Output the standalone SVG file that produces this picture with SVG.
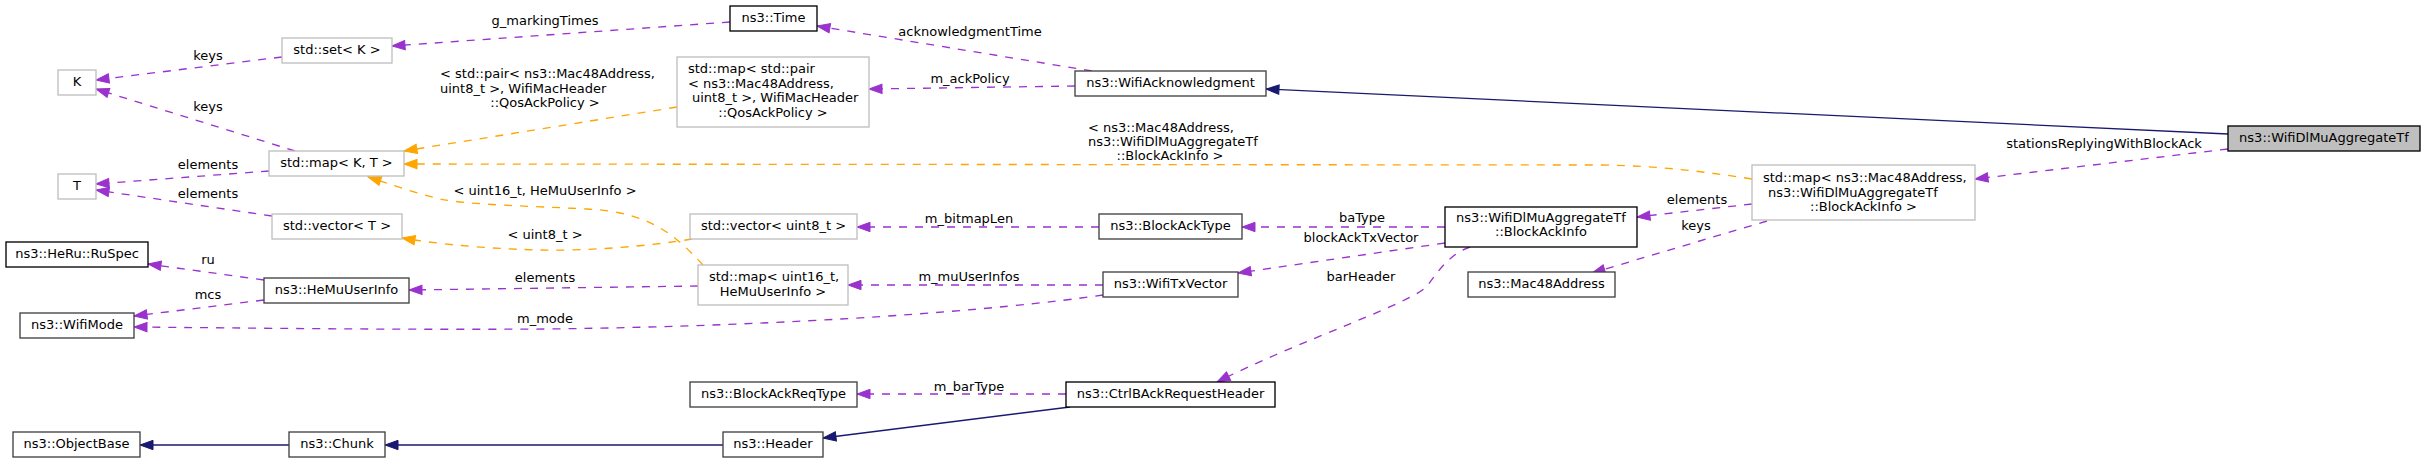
<svg xmlns="http://www.w3.org/2000/svg" width="2424" height="464" viewBox="0 0 2424 464">
<style>
text{font-family:"DejaVu Sans","Liberation Sans",sans-serif;font-size:13px;fill:#000}
.c{text-anchor:middle}
.s{text-anchor:start}
rect{fill:#fff;stroke-width:1.33}
.g rect{stroke:#bfbfbf}
.b rect{stroke:#000}
.d rect{stroke:#404040}
.f rect{fill:#bfbfbf;stroke:#000}
.e path{fill:none;stroke-width:1.33}
.p{stroke:#9a32cd;stroke-dasharray:8,8}
.o{stroke:#ffa500;stroke-dasharray:8,8}
.n{stroke:#191970}
</style>
<defs>
<marker id="ap" markerUnits="userSpaceOnUse" markerWidth="16" markerHeight="12" refX="13" refY="4.67" orient="auto" overflow="visible"><path d="M0,0L13,4.67L0,9.33z" fill="#9a32cd" stroke="#9a32cd" stroke-width="1"/></marker>
<marker id="ao" markerUnits="userSpaceOnUse" markerWidth="16" markerHeight="12" refX="13" refY="4.67" orient="auto" overflow="visible"><path d="M0,0L13,4.67L0,9.33z" fill="#ffa500" stroke="#ffa500" stroke-width="1"/></marker>
<marker id="an" markerUnits="userSpaceOnUse" markerWidth="16" markerHeight="12" refX="13" refY="4.67" orient="auto" overflow="visible"><path d="M0,0L13,4.67L0,9.33z" fill="#191970" stroke="#191970" stroke-width="1"/></marker>
</defs>
<rect x="0" y="0" width="2424" height="464" style="fill:#fff;stroke:none"/>
<g id="edges" class="e">
<path class="n" d="M2228,134L1266,89" marker-end="url(#an)"/>
<path class="p" d="M2228,149L1975,179" marker-end="url(#ap)"/>
<path class="p" d="M1752,204L1637,217" marker-end="url(#ap)"/>
<path class="p" d="M1767,221L1592,273" marker-end="url(#ap)"/>
<path class="o" d="M1752,179C1700,171 1660,166 1600,165L404,164" marker-end="url(#ao)"/>
<path class="o" d="M677,107L404,151" marker-end="url(#ao)"/>
<path class="o" d="M703,265C675,235 650,212 587,209C530,206 470,205 440,199C415,193 390,184 368,177" marker-end="url(#ao)"/>
<path class="o" d="M692,239C650,246 590,251 540,250C500,249 450,246 402,238" marker-end="url(#ao)"/>
<path class="p" d="M295,151L96,89" marker-end="url(#ap)"/>
<path class="p" d="M282,57L96,80" marker-end="url(#ap)"/>
<path class="p" d="M269,171L96,184" marker-end="url(#ap)"/>
<path class="p" d="M272,216L96,190" marker-end="url(#ap)"/>
<path class="p" d="M730,22L392,46" marker-end="url(#ap)"/>
<path class="p" d="M1092,71L817,26" marker-end="url(#ap)"/>
<path class="p" d="M1075,86L869,89" marker-end="url(#ap)"/>
<path class="p" d="M1445,227L1242,227" marker-end="url(#ap)"/>
<path class="p" d="M1445,243L1238,273" marker-end="url(#ap)"/>
<path class="p" d="M1470,247C1452,253 1440,268 1428,285C1416,302 1300,340 1217,382" marker-end="url(#ap)"/>
<path class="p" d="M1099,227L857,227" marker-end="url(#ap)"/>
<path class="p" d="M1103,285L848,285" marker-end="url(#ap)"/>
<path class="p" d="M1103,295C1000,310 800,326 545,329C400,330 250,328 134,327" marker-end="url(#ap)"/>
<path class="p" d="M698,286L409,290" marker-end="url(#ap)"/>
<path class="p" d="M264,280L148,264" marker-end="url(#ap)"/>
<path class="p" d="M264,300L134,316" marker-end="url(#ap)"/>
<path class="p" d="M1066,394L857,394" marker-end="url(#ap)"/>
<path class="n" d="M1070,407L823,438" marker-end="url(#an)"/>
<path class="n" d="M723,445L385,445" marker-end="url(#an)"/>
<path class="n" d="M289,445L140,445" marker-end="url(#an)"/>
</g>
<g id="edge-labels">
<text class="c" x="208" y="60">keys</text>
<text class="c" x="208" y="111">keys</text>
<text class="c" x="208" y="169">elements</text>
<text class="c" x="208" y="198">elements</text>
<text class="c" x="545" y="25">g_markingTimes</text>
<text class="s" x="440" y="78">&lt; std::pair&lt; ns3::Mac48Address,</text>
<text class="s" x="440" y="93">uint8_t &gt;, WifiMacHeader</text>
<text class="c" x="545" y="107">::QosAckPolicy &gt;</text>
<text class="c" x="970" y="36">acknowledgmentTime</text>
<text class="c" x="970" y="83">m_ackPolicy</text>
<text class="s" x="1088" y="132">&lt; ns3::Mac48Address,</text>
<text class="s" x="1088" y="146">ns3::WifiDlMuAggregateTf</text>
<text class="c" x="1170" y="160">::BlockAckInfo &gt;</text>
<text class="c" x="969" y="223">m_bitmapLen</text>
<text class="c" x="545" y="195">&lt; uint16_t, HeMuUserInfo &gt;</text>
<text class="c" x="545" y="239">&lt; uint8_t &gt;</text>
<text class="c" x="545" y="282">elements</text>
<text class="c" x="545" y="323">m_mode</text>
<text class="c" x="969" y="281">m_muUserInfos</text>
<text class="c" x="969" y="391">m_barType</text>
<text class="c" x="208" y="264">ru</text>
<text class="c" x="208" y="299">mcs</text>
<text class="c" x="1362" y="222">baType</text>
<text class="c" x="1361" y="242">blockAckTxVector</text>
<text class="c" x="1361" y="281">barHeader</text>
<text class="c" x="1697" y="204">elements</text>
<text class="c" x="1696" y="230">keys</text>
<text class="c" x="2104" y="148">stationsReplyingWithBlockAck</text>
</g>
<g id="node-focus" class="f"><rect x="2228" y="126" width="192" height="25"/><text class="c" x="2324" y="142">ns3::WifiDlMuAggregateTf</text></g>
<g id="node-ack" class="d"><rect x="1075" y="71" width="191" height="25"/><text class="c" x="1170.5" y="87">ns3::WifiAcknowledgment</text></g>
<g id="node-time" class="b"><rect x="730" y="6" width="87" height="25"/><text class="c" x="773.5" y="22">ns3::Time</text></g>
<g id="node-mappair" class="g"><rect x="677" y="57" width="192" height="70"/><text class="s" x="688" y="73">std::map&lt; std::pair</text><text class="s" x="688" y="88">&lt; ns3::Mac48Address,</text><text class="s" x="692" y="102">uint8_t &gt;, WifiMacHeader</text><text class="c" x="773" y="117">::QosAckPolicy &gt;</text></g>
<g id="node-setk" class="g"><rect x="282" y="38" width="110" height="25"/><text class="c" x="337" y="54">std::set&lt; K &gt;</text></g>
<g id="node-k" class="g"><rect x="58" y="70" width="38" height="25"/><text class="c" x="77" y="86">K</text></g>
<g id="node-mapkt" class="g"><rect x="269" y="151" width="135" height="25"/><text class="c" x="336.5" y="167">std::map&lt; K, T &gt;</text></g>
<g id="node-t" class="g"><rect x="58" y="174" width="38" height="25"/><text class="c" x="77" y="190">T</text></g>
<g id="node-vect" class="g"><rect x="272" y="214" width="130" height="25"/><text class="c" x="337" y="230">std::vector&lt; T &gt;</text></g>
<g id="node-vecu8" class="g"><rect x="690" y="214" width="167" height="25"/><text class="c" x="773.5" y="230">std::vector&lt; uint8_t &gt;</text></g>
<g id="node-batype" class="d"><rect x="1099" y="214" width="143" height="25"/><text class="c" x="1170.5" y="230">ns3::BlockAckType</text></g>
<g id="node-bainfo" class="b"><rect x="1445" y="207" width="192" height="40"/><text class="c" x="1541" y="222">ns3::WifiDlMuAggregateTf</text><text class="c" x="1541" y="236">::BlockAckInfo</text></g>
<g id="node-mapmac" class="g"><rect x="1752" y="165" width="223" height="55"/><text class="s" x="1763" y="182">std::map&lt; ns3::Mac48Address,</text><text class="s" x="1768" y="197">ns3::WifiDlMuAggregateTf</text><text class="c" x="1863.5" y="211">::BlockAckInfo &gt;</text></g>
<g id="node-mac48" class="d"><rect x="1468" y="272" width="147" height="25"/><text class="c" x="1541.5" y="288">ns3::Mac48Address</text></g>
<g id="node-ruspec" class="b"><rect x="6" y="242" width="142" height="25"/><text class="c" x="77" y="258">ns3::HeRu::RuSpec</text></g>
<g id="node-hemu" class="d"><rect x="264" y="278" width="145" height="25"/><text class="c" x="336.5" y="294">ns3::HeMuUserInfo</text></g>
<g id="node-wifimode" class="d"><rect x="20" y="313" width="114" height="25"/><text class="c" x="77" y="329">ns3::WifiMode</text></g>
<g id="node-mapu16" class="g"><rect x="698" y="265" width="150" height="40"/><text class="s" x="709" y="281">std::map&lt; uint16_t,</text><text class="c" x="773" y="296">HeMuUserInfo &gt;</text></g>
<g id="node-txvec" class="d"><rect x="1103" y="272" width="135" height="25"/><text class="c" x="1170.5" y="288">ns3::WifiTxVector</text></g>
<g id="node-barreq" class="d"><rect x="690" y="382" width="167" height="25"/><text class="c" x="773.5" y="398">ns3::BlockAckReqType</text></g>
<g id="node-ctrlbar" class="b"><rect x="1066" y="382" width="209" height="25"/><text class="c" x="1170.5" y="398">ns3::CtrlBAckRequestHeader</text></g>
<g id="node-objbase" class="d"><rect x="13" y="432" width="127" height="25"/><text class="c" x="76.5" y="448">ns3::ObjectBase</text></g>
<g id="node-chunk" class="d"><rect x="289" y="432" width="96" height="25"/><text class="c" x="337" y="448">ns3::Chunk</text></g>
<g id="node-header" class="d"><rect x="723" y="432" width="100" height="25"/><text class="c" x="773" y="448">ns3::Header</text></g>
</svg>
